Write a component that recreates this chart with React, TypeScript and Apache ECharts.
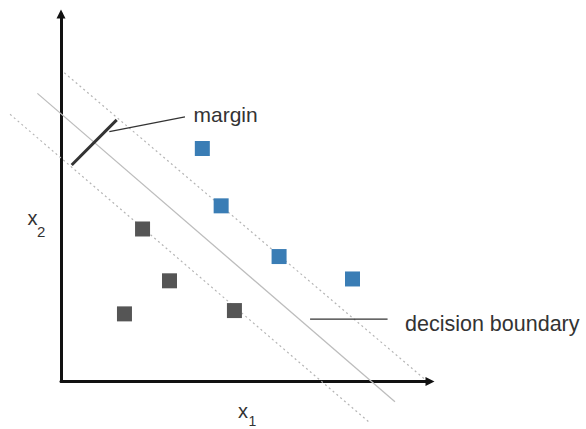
import React, { useEffect, useRef } from "react";
import * as echarts from "echarts";

// Class A (blue) points
const blueX = [3.83, 4.34, 5.91, 7.9];
const blueY = [6.34, 4.78, 3.4, 2.79];
// Class B (gray) points
const grayX = [2.21, 2.94, 1.72, 4.7];
const grayY = [4.15, 2.74, 1.84, 1.93];
// Decision boundary and margin lines (end points)
const boundaryX = [-0.64, 9.05];
const boundaryY = [7.84, -0.55];
const upperMarginX = [0.09, 9.86];
const upperMarginY = [8.4, 0.06];
const lowerMarginX = [-1.38, 8.33];
const lowerMarginY = [7.27, -1.09];
// margin width indicator
const marginBarX = [0.29, 1.51];
const marginBarY = [5.89, 7.12];
// annotation leader lines
const marginLeaderX = [1.31, 3.36];
const marginLeaderY = [6.8, 7.2];
const boundaryLeaderX = [6.75, 8.85];
const boundaryLeaderY = [1.7, 1.7];
const annotationTexts = ["margin", "decision boundary"];
const axisNames = ["x", "1", "x", "2"];

const zip = (xs: number[], ys: number[]) => xs.map((x, i) => [x, ys[i]]);

const FONT = "Liberation Sans, Arial, Helvetica, sans-serif";

export default function App() {
  const ref = useRef<HTMLDivElement>(null);
  useEffect(() => {
    if (!ref.current) return;
    const chart = echarts.init(ref.current, undefined, { renderer: "svg" });
    // a segment drawn through the cartesian scales, never clipped to the grid
    const segment = (name: string, xs: number[], ys: number[], style: any) => ({
      type: "custom",
      name,
      coordinateSystem: "cartesian2d",
      clip: false,
      silent: true,
      z: 1,
      dimensions: ["x1", "y1", "x2", "y2"],
      encode: { x: [0, 2], y: [1, 3] },
      data: [[xs[0], ys[0], xs[1], ys[1]]],
      renderItem: (_params: any, api: any) => {
        const p1 = api.coord([api.value(0), api.value(1)]);
        const p2 = api.coord([api.value(2), api.value(3)]);
        return {
          type: "line",
          shape: { x1: p1[0], y1: p1[1], x2: p2[0], y2: p2[1] },
          style: { fill: null, ...style },
        };
      },
    });
    const txt = (text: string, x: number, y: number, size: number) => ({
      type: "text",
      x,
      y,
      silent: true,
      style: {
        text,
        fill: "#333",
        font: `${size}px ${FONT}`,
        verticalAlign: "middle",
        align: "left",
      },
    });
    const axisCommon = {
      type: "value",
      min: 0,
      max: 10,
      axisLine: {
        show: true,
        symbol: ["none", "triangle"],
        symbolSize: [9, 9],
        lineStyle: { color: "#111", width: 3 },
      },
      axisTick: { show: false },
      axisLabel: { show: false },
      splitLine: { show: false },
    };
    chart.setOption({
      animation: false,
      backgroundColor: "#fff",
      grid: { left: 61, top: 14, right: 156, bottom: 47.5, containLabel: false },
      xAxis: axisCommon,
      yAxis: axisCommon,
      series: [
        segment("decision boundary", boundaryX, boundaryY, { stroke: "#bdbdbd", lineWidth: 1.3 }),
        segment("upper margin", upperMarginX, upperMarginY, { stroke: "#b5b5b5", lineWidth: 1.2, lineDash: [2, 3] }),
        segment("lower margin", lowerMarginX, lowerMarginY, { stroke: "#b5b5b5", lineWidth: 1.2, lineDash: [2, 3] }),
        segment("margin bar", marginBarX, marginBarY, { stroke: "#333", lineWidth: 3 }),
        segment("margin leader", marginLeaderX, marginLeaderY, { stroke: "#333", lineWidth: 1.2 }),
        segment("boundary leader", boundaryLeaderX, boundaryLeaderY, { stroke: "#333", lineWidth: 1.2 }),
        {
          type: "scatter",
          name: "class A",
          data: zip(blueX, blueY),
          symbol: "rect",
          symbolSize: 15,
          itemStyle: { color: "#3a7db5", opacity: 1 },
          z: 3,
        },
        {
          type: "scatter",
          name: "class B",
          data: zip(grayX, grayY),
          symbol: "rect",
          symbolSize: 15,
          itemStyle: { color: "#555555", opacity: 1 },
          z: 3,
        },
      ],
      graphic: [
        txt(annotationTexts[0], 193.5, 114.3, 21),
        txt(annotationTexts[1], 405, 324.3, 21.5),
        txt(axisNames[0], 238, 411.3, 20),
        txt(axisNames[1], 248.5, 421, 14),
        txt(axisNames[2], 27.5, 218, 20),
        txt(axisNames[3], 37, 231.5, 15),
      ],
    });
    return () => chart.dispose();
  }, []);
  return (
    <div
      ref={ref}
      style={{ position: "fixed", left: 0, top: 0, width: 586, height: 429 }}
    />
  );
}
